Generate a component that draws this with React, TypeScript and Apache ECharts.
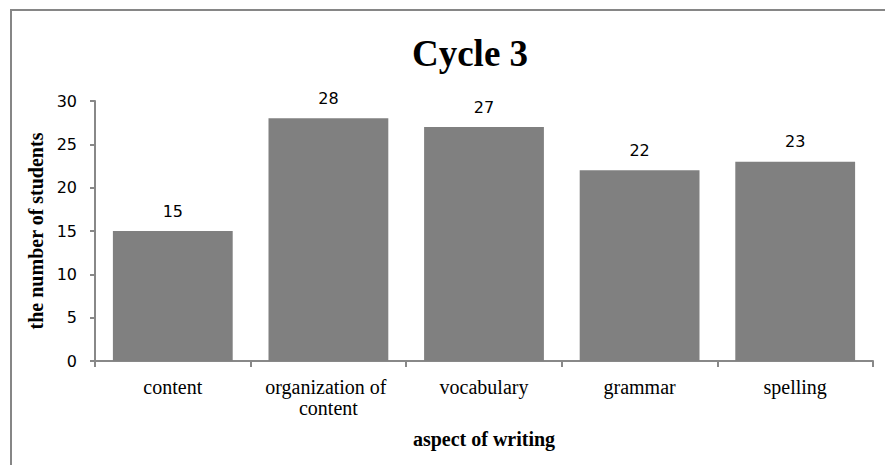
import React, { useEffect, useRef } from "react";
import * as echarts from "echarts";

const categories = ["content", "organization of content", "vocabulary", "grammar", "spelling"];
const values = [15, 28, 27, 22, 23];
const yTicks = { min: 0, max: 30, interval: 5 };

export default function App() {
  const ref = useRef<HTMLDivElement>(null);
  useEffect(() => {
    const chart = echarts.init(ref.current!, null, { renderer: "svg" });
    chart.setOption({
      animation: false,
      backgroundColor: "#ffffff",
      title: {
        text: "Cycle 3",
        left: 465,
        textAlign: "center",
        top: 30,
        textStyle: { fontFamily: "Liberation Serif", fontWeight: "bold", fontSize: 37, color: "#000" },
      },
      graphic: [
        {
          type: "rect",
          shape: { x: 11, y: 10, width: 900, height: 500 },
          style: { fill: "none", stroke: "#868686", lineWidth: 2 },
          silent: true,
        },
      ],
      grid: { left: 95, right: 12, top: 101, bottom: 104, containLabel: false },
      xAxis: {
        type: "category",
        data: categories,
        name: "aspect of writing",
        nameLocation: "middle",
        nameGap: 68,
        nameTextStyle: { fontFamily: "Liberation Serif", fontWeight: "bold", fontSize: 20, color: "#000" },
        axisLine: { lineStyle: { color: "#888", width: 2 } },
        axisTick: { show: true, length: 6, lineStyle: { color: "#888", width: 2 } },
        axisLabel: {
          fontFamily: "Liberation Serif",
          fontSize: 20,
          color: "#000",
          margin: 15,
          lineHeight: 21,
          width: 150,
          overflow: "break",
          interval: 0,
        },
      },
      yAxis: {
        type: "value",
        min: yTicks.min,
        max: yTicks.max,
        interval: yTicks.interval,
        name: "the number of students",
        nameLocation: "middle",
        nameGap: 49,
        nameRotate: 90,
        nameTextStyle: { fontFamily: "Liberation Serif", fontWeight: "bold", fontSize: 20, color: "#000" },
        axisLine: { show: true, lineStyle: { color: "#888", width: 2 } },
        axisTick: { show: true, length: 5, lineStyle: { color: "#888", width: 2 } },
        splitLine: { show: false },
        axisLabel: { fontFamily: "DejaVu Sans", fontSize: 16, color: "#000", margin: 18 },
      },
      series: [
        {
          type: "bar",
          data: values,
          barCategoryGap: "23%",
          itemStyle: { color: "#808080" },
          label: {
            show: true,
            position: "top",
            distance: 12,
            fontFamily: "DejaVu Sans",
            fontSize: 16,
            color: "#000",
          },
        },
      ],
    });
    return () => chart.dispose();
  }, []);
  return <div ref={ref} style={{ width: 885, height: 465, position: "absolute", left: 0, top: 0 }} />;
}
